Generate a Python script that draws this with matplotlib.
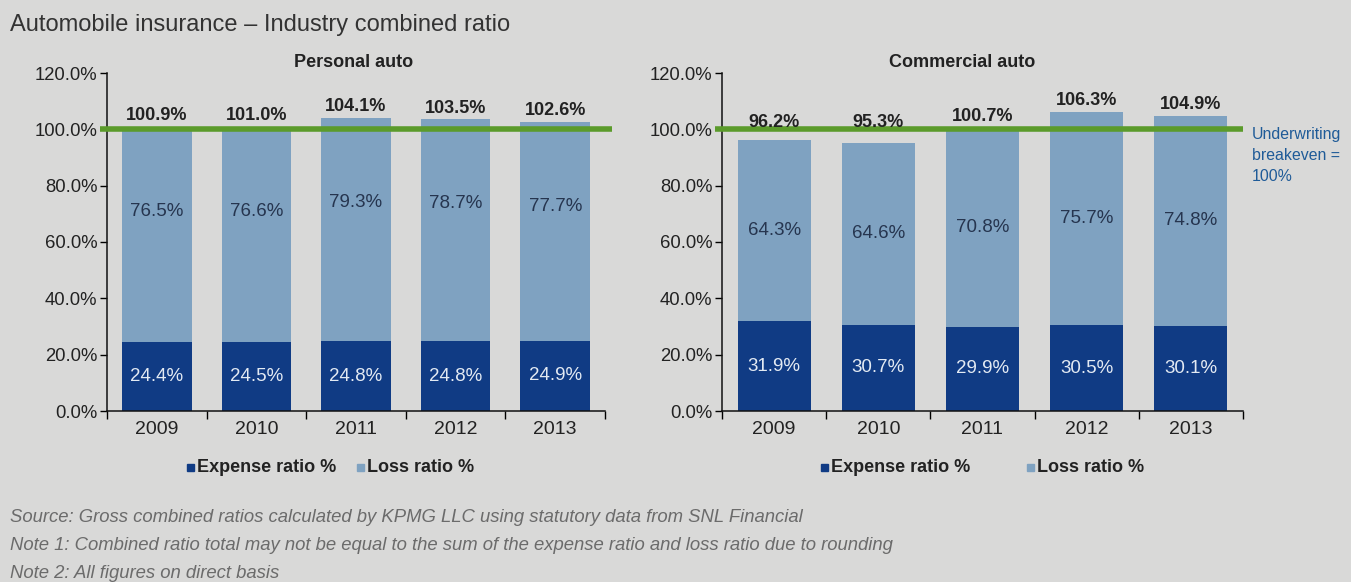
import numpy as np
import matplotlib
matplotlib.use("Agg")
import matplotlib.pyplot as plt
from matplotlib.patches import Rectangle

years = ["2009", "2010", "2011", "2012", "2013"]

personal_expense = [24.4, 24.5, 24.8, 24.8, 24.9]
personal_loss = [76.5, 76.6, 79.3, 78.7, 77.7]
personal_total = [100.9, 101.0, 104.1, 103.5, 102.6]

commercial_expense = [31.9, 30.7, 29.9, 30.5, 30.1]
commercial_loss = [64.3, 64.6, 70.8, 75.7, 74.8]
commercial_total = [96.2, 95.3, 100.7, 106.3, 104.9]

BG = "#d9d9d8"
NAVY = "#103b84"
LIGHT = "#7fa2c1"
GREEN = "#5b9b2b"

plt.rcParams["font.family"] = ["Liberation Sans", "DejaVu Sans"]

fig = plt.figure(figsize=(13.51, 5.82), dpi=100, facecolor=BG)

# pixel -> figure fraction helpers
W, H = 1351, 582
def fx(px):
    return px / W
def fy(py):
    return 1 - py / H


def draw_panel(rect, title, title_x, expense, loss, total, loss_drop, line_x0, line_x1):
    ax = fig.add_axes(rect)
    ax.set_facecolor(BG)
    x = np.arange(len(years))
    ax.bar(x, expense, width=0.7, color=NAVY, zorder=2)
    # loss segment drawn up to the combined ratio so bars reach their printed totals
    ax.bar(x, np.array(total) - np.array(expense), bottom=expense, width=0.7,
           color=LIGHT, zorder=2)

    ax.set_xlim(-0.5, len(years) - 0.5)
    ax.set_ylim(0, 120)
    ax.set_yticks(np.arange(0, 121, 20))
    ax.set_yticklabels([f"{v:.1f}%" for v in np.arange(0, 121, 20)], fontsize=13.3,
                       color="#222222")
    ax.set_xticks(x)
    ax.set_xticklabels(years, fontsize=14, color="#222222")
    ax.tick_params(axis="x", length=0, pad=7)
    ax.set_xticks(np.arange(-0.5, len(years)), minor=True)
    ax.tick_params(axis="x", which="minor", length=6, direction="out", width=1)
    ax.tick_params(axis="y", length=5, width=1, pad=2)
    for s in ["top", "right"]:
        ax.spines[s].set_visible(False)
    for s in ["left", "bottom"]:
        ax.spines[s].set_linewidth(1.1)
        ax.spines[s].set_color("#111111")

    # underwriting breakeven line
    ax.plot([line_x0, line_x1], [100, 100], color=GREEN, lw=4, zorder=3,
            clip_on=False, solid_capstyle="butt")

    for i in range(len(years)):
        ax.text(x[i], expense[i] / 2, f"{expense[i]:.1f}%", ha="center", va="center",
                fontsize=13.5, color="#e3eaf3", zorder=4)
        if loss_drop is None:
            ly = (expense[i] + total[i]) / 2
        else:
            ly = total[i] - loss_drop
        ax.text(x[i], ly, f"{loss[i]:.1f}%", ha="center", va="center",
                fontsize=13.5, color="#26354f", zorder=4)
        ty = max(total[i], 98.6) + 4.0
        ax.text(x[i], ty, f"{total[i]:.1f}%", ha="center", va="center",
                fontsize=13, fontweight="bold", color="#222222", zorder=4)

    ax.text(title_x, 1.03, title, transform=ax.transAxes, ha="center", va="center",
            fontsize=13, fontweight="bold", color="#222222")
    return ax


ax1 = draw_panel([fx(107), fy(411), fx(605) - fx(107), fy(73) - fy(411)],
                 "Personal auto", 0.495, personal_expense, personal_loss, personal_total,
                 30.0, -0.57, 4.57)
ax2 = draw_panel([fx(722), fy(411), fx(1243) - fx(722), fy(73) - fy(411)],
                 "Commercial auto", 0.46, commercial_expense, commercial_loss,
                 commercial_total, None, -0.57, 4.5)

# legends under each panel
def legend_row(x_px, y_px, gap_px):
    fig.patches.append(Rectangle((fx(x_px), fy(y_px + 4)), fx(7), 7 / H,
                                 transform=fig.transFigure, color=NAVY))
    fig.text(fx(x_px + 10), fy(y_px), "Expense ratio %", fontsize=13, fontweight="bold",
             color="#222222", va="center")
    x2 = x_px + gap_px
    fig.patches.append(Rectangle((fx(x2), fy(y_px + 4)), fx(7), 7 / H,
                                 transform=fig.transFigure, color=LIGHT))
    fig.text(fx(x2 + 10), fy(y_px), "Loss ratio %", fontsize=13, fontweight="bold",
             color="#222222", va="center")

legend_row(187, 467, 170)
legend_row(821, 467, 206)

fig.text(fx(10), fy(25), "Automobile insurance \u2013 Industry combined ratio",
         fontsize=17, color="#333333", va="center",
         family=["Liberation Sans Narrow", "Liberation Sans", "DejaVu Sans"])

fig.text(fx(1252), fy(127), "Underwriting\nbreakeven =\n100%", fontsize=11.4,
         color="#1f5b98", va="top", linespacing=1.5,
         family=["Liberation Sans Narrow", "Liberation Sans", "DejaVu Sans"])

notes = [
    "Source: Gross combined ratios calculated by KPMG LLC using statutory data from SNL Financial",
    "Note 1: Combined ratio total may not be equal to the sum of the expense ratio and loss ratio due to rounding",
    "Note 2: All figures on direct basis",
]
for k, n in enumerate(notes):
    fig.text(fx(10), fy(518 + 28 * k), n, fontsize=13.3, style="italic", color="#6b6b6b",
             va="center")

fig.savefig("out.png", dpi=100, facecolor=BG)
